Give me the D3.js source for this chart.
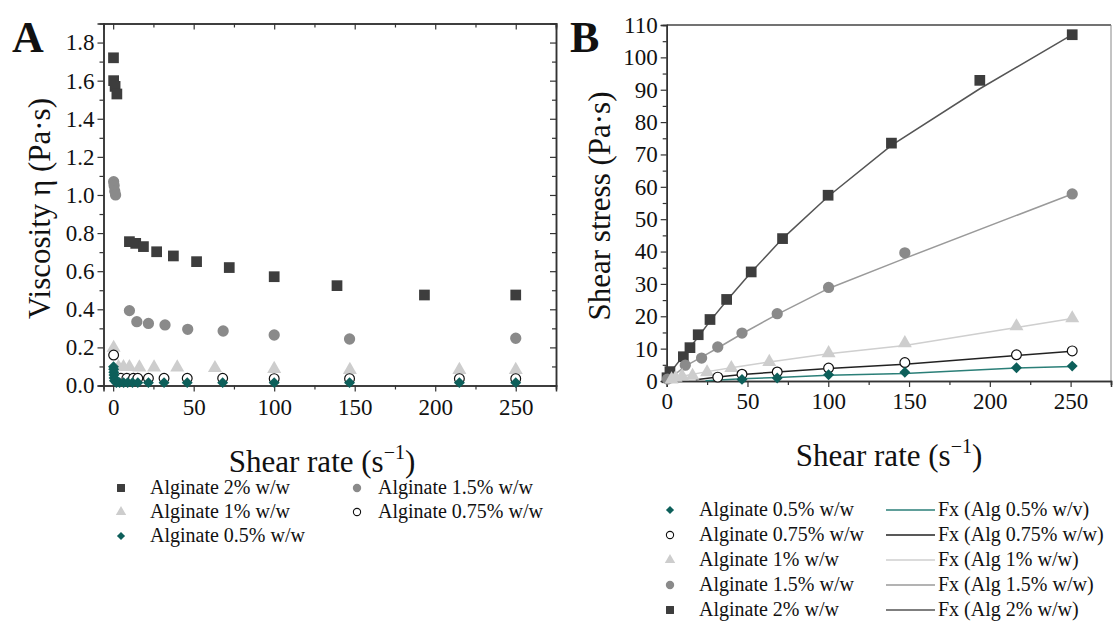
<!DOCTYPE html>
<html><head><meta charset="utf-8">
<script src="https://cdn.jsdelivr.net/npm/d3@7"></script>
<style>
body{margin:0;background:#fff;}
text{font-family:"Liberation Serif","Times New Roman",serif;fill:#111;}
</style></head>
<body><svg id="c" width="1113" height="624"></svg>
<script>
// ---------- Panel A data: viscosity vs shear rate ----------
const a2x = [0.2,0.3,1.2,2.3,10.1,14.0,18.8,27.0,37.4,51.8,72.1,100,139,193.3,250];
const a2y = [1.72,1.60,1.57,1.53,0.755,0.746,0.729,0.702,0.680,0.650,0.619,0.571,0.524,0.475,0.475];
const a15x = [0.3,0.6,1.0,1.5,10.1,14.7,21.9,32.2,46.3,68.3,100,146.8,250];
const a15y = [1.07,1.05,1.02,1.00,0.393,0.335,0.326,0.318,0.295,0.286,0.265,0.244,0.248];
const a1x = [0.3,3.3,6.4,10.1,16.3,25.4,39.8,63.2,100,147,215,250];
const a1y = [0.198,0.097,0.097,0.097,0.095,0.095,0.095,0.092,0.087,0.082,0.082,0.082];
const a075x = [0.3,4.8,8.5,12.6,15.3,21.9,31.6,46,68,100,146.8,215,250];
const a075y = [0.16,0.038,0.038,0.038,0.038,0.038,0.038,0.038,0.038,0.036,0.036,0.036,0.036];
const a05x = [0.2,0.3,0.4,0.5,0.6,0.8,2,4,6.5,9,12,15.3,21.9,31.6,46,68,100,146.8,215,250];
const a05y = [0.099,0.085,0.07,0.055,0.04,0.025,0.015,0.015,0.015,0.015,0.015,0.015,0.015,0.015,0.015,0.015,0.015,0.015,0.015,0.015];

// ---------- Panel B data: shear stress vs shear rate ----------
const b2x = [0.2,2.0,10.3,14.4,19.5,26.8,37.1,52.3,71.7,99.9,139.1,193.8,251];
const b2y = [1.0,2.9,7.5,10.3,14.3,19.0,25.2,33.7,44.0,57.4,73.5,92.9,107];
const b15x = [0.5,11.5,21.6,31.6,46.6,68.4,100.2,147.4,251];
const b15y = [0.6,4.9,7.1,10.5,14.8,20.8,28.9,39.6,57.8];
const b1x = [3,5.5,9.5,16,25,40,63.5,100.2,147.4,216.5,251];
const b1y = [0.5,1.0,1.5,1.6,2.7,4.0,5.9,8.6,11.7,16.9,19.4];
const b075x = [31.6,46.6,68.4,100.2,147.4,216.5,251];
const b075y = [1.2,2.1,2.8,4.0,5.7,8.1,9.3];
const b05x = [46.6,68.4,100.2,147.4,216.5,251];
const b05y = [0.5,0.9,1.9,2.7,4.1,4.6];
// fitted curves
const f2x = [0,2,10.3,14.4,19.5,26.8,37.1,52.3,71.7,99.9,139.1,193.8,251];
const f2y = [0,2.5,7.8,10.4,13.6,18.5,24.8,33.6,44.0,57.0,72.8,90.3,107];
const f15x = [0,11.5,21.6,31.6,46.6,68.4,100.2,147.4,251];
const f15y = [0,4.6,7.4,10.2,14.6,20.6,28.6,37.9,57.8];
const f1x = [2,9.5,25,40,63.5,100.2,147.4,216.5,251];
const f1y = [0.5,1.5,2.9,4.1,5.9,8.4,11.0,16.5,19.3];
const f075x = [18,31.6,46.6,68.4,100.2,147.4,216.5,251];
const f075y = [0.4,1.2,2.0,2.8,3.9,5.2,7.9,9.2];
const f05x = [24,46.6,68.4,100.2,147.4,216.5,251];
const f05y = [0.05,0.7,1.1,1.8,2.3,4.0,4.5];

// ticks
const aYTicks = [0,0.2,0.4,0.6,0.8,1.0,1.2,1.4,1.6,1.8];
const xTicks = [0,50,100,150,200,250];
const bYTicks = [0,10,20,30,40,50,60,70,80,90,100,110];

// legends
const legA = [
  {label:"Alginate 2% w/w", key:"s2"},
  {label:"Alginate 1.5% w/w", key:"s15"},
  {label:"Alginate 1% w/w", key:"s1"},
  {label:"Alginate 0.75% w/w", key:"s075"},
  {label:"Alginate 0.5% w/w", key:"s05"}
];
const legB = ["Alginate 0.5% w/w","Alginate 0.75% w/w","Alginate 1% w/w","Alginate 1.5% w/w","Alginate 2% w/w"];
const legBKeys = ["s05","s075","s1","s15","s2"];
const legBFit = ["Fx (Alg 0.5% w/v)","Fx (Alg 0.75% w/w)","Fx (Alg 1% w/w)","Fx (Alg 1.5% w/w)","Fx (Alg 2% w/w)"];

// styles
const sty = {
  s2:{shape:d3.symbolSquare, rot:0, fill:"#3d3d3d", stroke:"none", size:115, line:"#555"},
  s15:{shape:d3.symbolCircle, rot:0, fill:"#8a8a8a", stroke:"none", size:100, line:"#9a9a9a"},
  s1:{shape:d3.symbolTriangle, rot:0, fill:"#cdcdcd", stroke:"none", size:85, line:"#cfcfcf"},
  s075:{shape:d3.symbolCircle, rot:0, fill:"#fff", stroke:"#111", size:75, line:"#222"},
  s05:{shape:d3.symbolSquare, rot:45, fill:"#0d5f5a", stroke:"none", size:60, line:"#2b7f78"}
};

const svg = d3.select("#c");
const zip = (xs,ys)=>xs.map((x,i)=>({x, y:ys[i]}));
const SERIF = "'Liberation Serif','Times New Roman',serif";

function drawPts(g, xs, ys, key, sx, sy){
  const s = sty[key];
  g.selectAll(null).data(zip(xs,ys)).enter().append("path")
    .attr("d", d3.symbol().type(s.shape).size(s.size))
    .attr("transform", d=>`translate(${sx(d.x)},${sy(d.y)}) rotate(${s.rot})`)
    .attr("fill", s.fill).attr("stroke", s.stroke).attr("stroke-width", s.stroke==="none"?0:1.2);
}
function styleAxis(g){
  g.attr("font-family", SERIF);
  g.selectAll(".domain").attr("stroke","#333").attr("stroke-width",1.5);
  g.selectAll(".tick line").attr("stroke","#333").attr("stroke-width",1.2);
  g.selectAll(".tick text").style("font-family",SERIF).style("font-size","23px").attr("fill","#111");
}

// ================= Panel A =================
{
  const L=103.5, R=556, T=23.5, B=385.5;
  const x = d3.scaleLinear().domain([-6,275]).range([L,R]);
  const y = d3.scaleLinear().domain([0,1.9]).range([B,T]);
  const minorX = d3.range(25,276,50);
  const minorY = d3.range(0.1,1.9,0.2);
  const gb = svg.append("g").attr("transform",`translate(0,${B})`);
  gb.call(d3.axisBottom(x).tickValues(minorX).tickSize(4).tickFormat("")); styleAxis(gb);
  const gb2 = svg.append("g").attr("transform",`translate(0,${B})`);
  gb2.call(d3.axisBottom(x).tickValues(xTicks).tickSize(6).tickPadding(7).tickFormat(d3.format("d"))); styleAxis(gb2);
  const gl = svg.append("g").attr("transform",`translate(${L},0)`);
  gl.call(d3.axisLeft(y).tickValues(minorY).tickSize(4).tickFormat("")); styleAxis(gl);
  const gl2 = svg.append("g").attr("transform",`translate(${L},0)`);
  gl2.call(d3.axisLeft(y).tickValues(aYTicks).tickSize(6).tickPadding(3).tickFormat(d3.format(".1f"))); styleAxis(gl2);
  const gt = svg.append("g").attr("transform",`translate(0,${T})`);
  gt.call(d3.axisTop(x).tickValues(xTicks).tickSize(-6).tickFormat("")); styleAxis(gt);
  const gt2 = svg.append("g").attr("transform",`translate(0,${T})`);
  gt2.call(d3.axisTop(x).tickValues(minorX).tickSize(-4).tickFormat("")); styleAxis(gt2);
  const gr = svg.append("g").attr("transform",`translate(${R},0)`);
  gr.call(d3.axisRight(y).tickValues(aYTicks).tickSize(-6).tickFormat("")); styleAxis(gr);
  const gr2 = svg.append("g").attr("transform",`translate(${R},0)`);
  gr2.call(d3.axisRight(y).tickValues(minorY).tickSize(-4).tickFormat("")); styleAxis(gr2);

  const gp = svg.append("g");
  drawPts(gp,a2x,a2y,"s2",x,y);
  drawPts(gp,a15x,a15y,"s15",x,y);
  drawPts(gp,a1x,a1y,"s1",x,y);
  drawPts(gp,a075x,a075y,"s075",x,y);
  drawPts(gp,a05x,a05y,"s05",x,y);

  svg.append("text").attr("x",12).attr("y",52).style("font-size","44px").style("font-weight","bold").text("A");
  svg.append("text").attr("transform",`translate(50,${(T+B)/2+4}) rotate(-90)`).attr("text-anchor","middle")
    .style("font-size","31px").text("Viscosity η (Pa·s)");
  const xt = svg.append("text").attr("x",322).attr("y",472).attr("text-anchor","middle").style("font-size","31px");
  xt.append("tspan").text("Shear rate (s");
  xt.append("tspan").attr("dy",-13).style("font-size","20px").text("−1");
  xt.append("tspan").attr("dy",13).text(")");

  const cols=[121,357], rows=[488,512,536];
  legA.forEach((d,i)=>{
    const cx = cols[i%2], cy = rows[Math.floor(i/2)];
    const s = sty[d.key];
    svg.append("path").attr("d", d3.symbol().type(s.shape).size(s.size*0.55))
      .attr("transform",`translate(${cx},${cy}) rotate(${s.rot})`).attr("fill",s.fill).attr("stroke",s.stroke).attr("stroke-width",s.stroke==="none"?0:1.1);
    svg.append("text").attr("x",cx+(i%2?21:29)).attr("y",cy+6).style("font-size","20px").text(d.label);
  });
}

// ================= Panel B =================
{
  const L=666.7, R=1111, T=25, B=381;
  const x = d3.scaleLinear().domain([0,275]).range([L,R]);
  const y = d3.scaleLinear().domain([0,110]).range([B,T]);
  const minorX = d3.range(25,276,50);
  const minorY = d3.range(5,110,10);
  svg.append("line").attr("x1",L).attr("x2",R).attr("y1",T).attr("y2",T).attr("stroke","#444").attr("stroke-width",1.5);
  svg.append("line").attr("x1",R).attr("x2",R).attr("y1",T).attr("y2",B).attr("stroke","#888").attr("stroke-width",1);
  const gb = svg.append("g").attr("transform",`translate(0,${B})`);
  gb.call(d3.axisBottom(x).tickValues(minorX).tickSize(4).tickFormat("")); styleAxis(gb);
  const gb2 = svg.append("g").attr("transform",`translate(0,${B})`);
  gb2.call(d3.axisBottom(x).tickValues(xTicks).tickSize(6).tickPadding(6).tickFormat(d3.format("d"))); styleAxis(gb2);
  const gl = svg.append("g").attr("transform",`translate(${L},0)`);
  gl.call(d3.axisLeft(y).tickValues(minorY).tickSize(4).tickFormat("")); styleAxis(gl);
  const gl2 = svg.append("g").attr("transform",`translate(${L},0)`);
  gl2.call(d3.axisLeft(y).tickValues(bYTicks).tickSize(6).tickPadding(3).tickFormat(d3.format("d"))); styleAxis(gl2);

  const line = d3.line().x(d=>x(d.x)).y(d=>y(d.y));
  const fits = [[f05x,f05y,"s05"],[f075x,f075y,"s075"],[f1x,f1y,"s1"],[f15x,f15y,"s15"],[f2x,f2y,"s2"]];
  fits.forEach(([xs,ys,k])=>{
    svg.append("path").datum(zip(xs,ys)).attr("d",line).attr("fill","none").attr("stroke",sty[k].line).attr("stroke-width",1.5);
  });
  const gp = svg.append("g");
  drawPts(gp,b2x,b2y,"s2",x,y);
  drawPts(gp,b15x,b15y,"s15",x,y);
  drawPts(gp,b1x,b1y,"s1",x,y);
  drawPts(gp,b075x,b075y,"s075",x,y);
  drawPts(gp,b05x,b05y,"s05",x,y);

  svg.append("text").attr("x",570).attr("y",52).style("font-size","44px").style("font-weight","bold").text("B");
  svg.append("text").attr("transform",`translate(610,${(T+B)/2+3}) rotate(-90)`).attr("text-anchor","middle")
    .style("font-size","31px").text("Shear stress (Pa·s)");
  const xt = svg.append("text").attr("x",889).attr("y",466).attr("text-anchor","middle").style("font-size","31px");
  xt.append("tspan").text("Shear rate (s");
  xt.append("tspan").attr("dy",-13).style("font-size","20px").text("−1");
  xt.append("tspan").attr("dy",13).text(")");

  const rows=[510,535,560,585,610];
  legB.forEach((lab,i)=>{
    const s = sty[legBKeys[i]], cy = rows[i];
    svg.append("path").attr("d", d3.symbol().type(s.shape).size(s.size*0.55))
      .attr("transform",`translate(670,${cy}) rotate(${s.rot})`).attr("fill",s.fill).attr("stroke",s.stroke).attr("stroke-width",s.stroke==="none"?0:1.1);
    svg.append("text").attr("x",699).attr("y",cy+6).style("font-size","20px").text(lab);
    svg.append("line").attr("x1",886).attr("x2",935).attr("y1",cy).attr("y2",cy).attr("stroke",s.line).attr("stroke-width",1.6);
    svg.append("text").attr("x",938).attr("y",cy+6).style("font-size","20px").text(legBFit[i]);
  });
}
</script></body></html>
